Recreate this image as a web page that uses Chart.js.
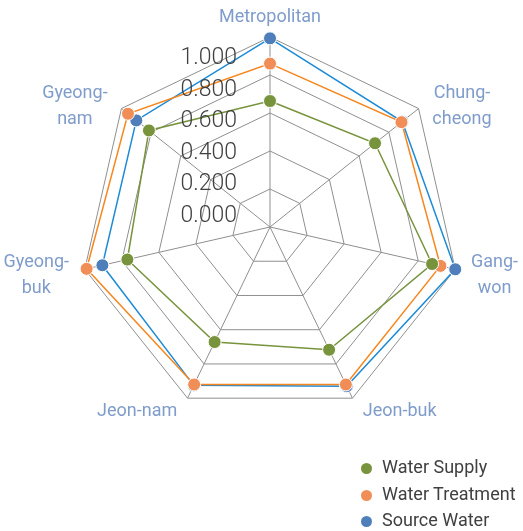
<!DOCTYPE html>
<html lang="en">
    <head>
        <meta charset="UTF-8">
        <title>Radar chart</title>
        <script src="https://cdn.jsdelivr.net/npm/chart.js"></script>
        <style>
            body {
                margin: 0;
                background: white;
            }
            .chart-container {
                position: relative;
                width: 523px;
                height: 531px;
            }
            #legend {
                position: absolute;
                left: 361px;
                top: 454px;
                font-family: Roboto, sans-serif;
                font-size: 18px;
                color: #404040;
            }
            #legend div {
                height: 26.5px;
                line-height: 26.5px;
                white-space: nowrap;
            }
            #legend span {
                display: inline-block;
                width: 11px;
                height: 11px;
                border-radius: 50%;
                margin-right: 10px;
                vertical-align: -1px;
            }
        </style>
    </head>
    <body>
        <div class="chart-container">
            <canvas id="radarChart"></canvas>
            <div id="legend"></div>
        </div>
        <script>
            const categories = [
                ['Metropolitan'],
                ['Chung-', 'cheong'],
                ['Gang-', 'won'],
                ['Jeon-buk'],
                ['Jeon-nam'],
                ['Gyeong-', 'buk'],
                ['Gyeong-', 'nam']
            ];
            const waterSupply = [0.663, 0.707, 0.875, 0.717, 0.672, 0.77, 0.815];
            const waterTreatment = [0.86, 0.885, 0.92, 0.92, 0.92, 0.99, 0.956];
            const sourceWater = [0.993, 0.89, 1.0, 0.93, 0.925, 0.905, 0.90];
            const tickValues = [0, 0.2, 0.4, 0.6, 0.8, 1.0];
            const tickLabels = ['0.000', '0.200', '0.400', '0.600', '0.800', '1.000'];

            const series = [
                { label: 'Water Supply', data: waterSupply, line: '#77933c', point: '#77933c' },
                { label: 'Water Treatment', data: waterTreatment, line: '#f7861e', point: '#f18d57' },
                { label: 'Source Water', data: sourceWater, line: '#1c8ad6', point: '#4f7fba' }
            ];

            // labels round the polygon and the odd Excel-style value labels
            const labelPlugin = {
                id: 'labels',
                afterDraw(chart) {
                    const scale = chart.scales.r;
                    const ctx = chart.ctx;
                    const lineH = 26;
                    ctx.save();
                    ctx.font = '18px Roboto';
                    ctx.fillStyle = '#7f9ccb';
                    ctx.textAlign = 'center';
                    ctx.textBaseline = 'middle';
                    categories.forEach((lines, i) => {
                        const p = scale.getPointPosition(i, scale.drawingArea + 10);
                        const a = scale.getIndexAngle(i) - Math.PI / 2;
                        const dx = Math.cos(a), dy = Math.sin(a);
                        const w = Math.max(...lines.map(t => ctx.measureText(t).width));
                        let cx = p.x, cy = p.y + 4;
                        if (dx > 0.15) cx = p.x + 6 + w / 2;
                        else if (dx < -0.15) cx = p.x - 6 - w / 2;
                        if (dy < -0.9) cy = p.y - 10;
                        const top = cy - lines.length * lineH / 2;
                        lines.forEach((t, k) => ctx.fillText(t, cx, top + lineH * (k + 0.5)));
                    });
                    ctx.font = '300 23px Roboto';
                    ctx.fillStyle = '#404040';
                    ctx.textAlign = 'right';
                    tickValues.forEach((v, i) => {
                        const d = scale.getDistanceFromCenterForValue(v);
                        ctx.fillText(tickLabels[i], scale.xCenter - 33, scale.yCenter - 11 - d * 0.828);
                    });
                    ctx.restore();
                }
            };

            new Chart(document.getElementById('radarChart'), {
                type: 'radar',
                data: {
                    labels: categories,
                    datasets: series.map(s => ({
                        label: s.label,
                        data: s.data,
                        borderColor: s.line,
                        borderWidth: 1.5,
                        backgroundColor: s.point,
                        pointBackgroundColor: s.point,
                        pointBorderColor: '#ffffff',
                        pointBorderWidth: 1,
                        pointRadius: 6.5,
                        fill: false
                    }))
                },
                options: {
                    responsive: true,
                    maintainAspectRatio: false,
                    animation: false,
                    layout: {
                        padding: { left: 80, right: 63, top: 37, bottom: 114 }
                    },
                    plugins: {
                        legend: { display: false },
                        tooltip: { enabled: false }
                    },
                    scales: {
                        r: {
                            min: 0,
                            max: 1,
                            ticks: { display: false, stepSize: 0.2 },
                            pointLabels: { display: false },
                            grid: { color: '#8f8f8f', lineWidth: 1 },
                            angleLines: { color: '#8f8f8f', lineWidth: 1 }
                        }
                    }
                },
                plugins: [labelPlugin]
            });

            document.getElementById('legend').innerHTML = series.map(s =>
                `<div><span style="background:${s.point}"></span>${s.label}</div>`
            ).join('');
        </script>
    </body>
</html>
